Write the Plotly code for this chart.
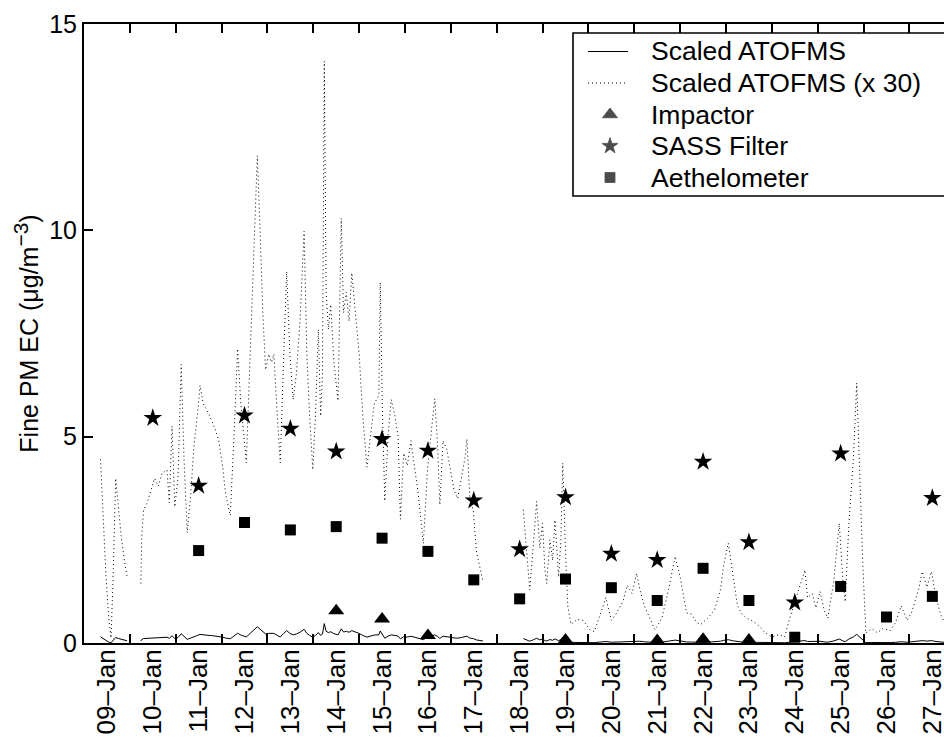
import plotly.graph_objects as go

# ---------------- data ----------------
# day-of-January positions (label positions = daily sample times)
day_labels = ["09–Jan", "10–Jan", "11–Jan", "12–Jan", "13–Jan", "14–Jan", "15–Jan",
              "16–Jan", "17–Jan", "18–Jan", "19–Jan", "20–Jan", "21–Jan", "22–Jan",
              "23–Jan", "24–Jan", "25–Jan", "26–Jan", "27–Jan"]
day_positions = [9, 10, 11, 12, 13, 14, 15, 16, 17, 18, 19, 20, 21, 22, 23, 24, 25, 26, 27]
tick_positions = [8.5, 9.5, 10.5, 11.5, 12.5, 13.5, 14.5, 15.5, 16.5, 17.5, 18.5,
                  19.5, 20.5, 21.5, 22.5, 23.5, 24.5, 25.5, 26.5, 27.5]
y_ticks = [0, 5, 10, 15]

# Scaled ATOFMS (x 30) time series (None = data gap)
atofms_time = [
    8.86, 8.92, 8.98, 9.04, 9.09, 9.14, 9.19, 9.25, 9.31, 9.38, 9.44, 9.59,
    9.74, 9.76, 9.80, 9.88, 9.96, 10.04, 10.12, 10.20, 10.31, 10.36, 10.42, 10.48,
    10.55, 10.62, 10.68, 10.75, 10.82, 10.90, 10.98, 11.03, 11.10, 11.20, 11.28, 11.36,
    11.44, 11.52, 11.59, 11.69, 11.77, 11.85, 11.92, 11.99, 12.04, 12.14, 12.21, 12.28,
    12.34, 12.40, 12.46, 12.53, 12.59, 12.64, 12.71, 12.78, 12.85, 12.92, 12.99, 13.06,
    13.13, 13.21, 13.30, 13.36, 13.42, 13.49, 13.55, 13.61, 13.66, 13.70, 13.74, 13.78,
    13.83, 13.88, 13.95, 14.04, 14.11, 14.16, 14.22, 14.28, 14.34, 14.44, 14.50, 14.58,
    14.67, 14.83, 14.93, 14.96, 15.01, 15.06, 15.13, 15.20, 15.28, 15.35, 15.40, 15.47,
    15.55, 15.63, 15.70, 15.79, 15.90, 15.99, 16.09, 16.15, 16.21, 16.26, 16.33, 16.41,
    16.49, 16.57, 16.65, 16.73, 16.81, 16.85, 16.91, 16.99, 17.06, 17.14, 17.20, 17.60,
    18.08, 18.15, 18.22, 18.30, 18.37, 18.44, 18.50, 18.55, 18.59, 18.66, 18.72, 18.77,
    18.85, 18.90, 18.94, 19.00, 19.05, 19.12, 19.25, 19.38, 19.55, 19.63, 19.72, 19.82,
    19.88, 20.00, 20.10, 20.25, 20.35, 20.45, 20.55, 20.62, 20.72, 20.95, 21.10, 21.25,
    21.39, 21.50, 21.64, 21.75, 21.85, 21.95, 22.10, 22.25, 22.38, 22.45, 22.55, 22.65,
    22.75, 22.85, 22.95, 23.05, 23.20, 23.35, 23.50, 23.65, 23.78, 23.88, 24.08, 24.22,
    24.28, 24.38, 24.46, 24.55, 24.64, 24.72, 24.85, 24.97, 25.05, 25.10, 25.18, 25.28,
    25.35, 25.42, 25.48, 25.55, 25.68, 25.80, 25.92, 26.08, 26.20, 26.32, 26.45, 26.55,
    26.70, 26.78, 26.88, 26.98, 27.08, 27.18, 27.26]
atofms_x30 = [
    4.45, 3.0, 1.6, 0.6, 0.12, 1.8, 3.99, 3.3, 2.6, 2.0, 1.6, None,
    1.44, 2.6, 3.23, 3.4, 3.7, 3.99, 3.8, 4.1, 4.2, 3.4, 5.26, 3.3,
    4.0, 6.75, 4.5, 2.67, 3.5, 4.8, 5.6, 6.24, 5.8, 5.6, 5.4, 5.18,
    4.9, 4.3, 3.6, 3.09, 5.0, 7.13, 5.8, 5.0, 4.37, 7.5, 9.5, 11.81,
    10.0, 8.0, 6.62, 7.0, 6.8, 7.0, 5.6, 4.37, 6.8, 9.0, 7.0, 5.9,
    6.5, 7.8, 9.98, 7.0, 5.5, 4.2, 5.6, 7.6, 5.5, 6.5, 14.1, 8.5,
    7.6, 8.2, 6.8, 5.87, 10.29, 8.0, 8.5, 7.8, 8.97, 7.8, 7.0, 5.5,
    4.26, 5.8, 6.0, 8.74, 5.5, 3.44, 5.0, 5.9, 5.5, 5.0, 3.0, 4.6,
    4.3, 4.9, 4.3, 3.6, 2.41, 4.2, 5.3, 5.92, 4.8, 3.35, 4.9, 4.7,
    4.2, 3.7, 3.5, 4.0, 4.5, 4.94, 3.6, 3.2, 2.2, 1.8, 1.49, None,
    3.23, 2.3, 1.29, 2.4, 3.43, 2.3, 2.9, 1.8, 1.44, 2.5, 2.0, 2.98,
    1.6, 2.5, 4.36, 2.2, 0.9, 0.45, 0.57, 0.55, 0.3, 0.28, 0.6, 0.9,
    1.1, 0.55, 0.7, 1.0, 1.4, 1.2, 1.69, 1.3, 0.9, 0.32, 0.6, 1.3,
    2.1, 1.6, 0.73, 0.7, 0.5, 0.45, 0.6, 0.8, 1.3, 1.9, 2.42, 1.6,
    0.9, 0.7, 0.6, 0.55, 0.44, 0.25, 0.15, 0.2, 0.15, 0.56, 1.29, 1.77,
    1.1, 1.2, 0.85, 1.25, 0.8, 0.6, 1.5, 2.9, 1.5, 1.0, 2.9, 4.5,
    6.3, 4.0, 2.0, 0.24, 0.35, 0.25, 0.35, 0.3, 0.5, 0.9, 0.55, 0.75,
    1.3, 1.73, 1.35, 1.73, 1.1, 0.7, 0.5]
# the solid "Scaled ATOFMS" curve is the same measurement without the x30 factor
atofms_scaled = [None if v is None else v / 30.0 for v in atofms_x30]

impactor_days = [14, 15, 16, 19, 21, 22, 23]
impactor_vals = [0.78, 0.58, 0.18, 0.07, 0.06, 0.09, 0.07]

sass_days = [10, 11, 12, 13, 14, 15, 16, 17, 18, 19, 20, 21, 22, 23, 24, 25, 27]
sass_vals = [5.45, 3.81, 5.51, 5.19, 4.64, 4.94, 4.66, 3.45, 2.27, 3.53, 2.16, 2.01,
             4.39, 2.44, 0.98, 4.59, 3.51]

aeth_days = [11, 12, 13, 14, 15, 16, 17, 18, 19, 20, 21, 22, 23, 24, 25, 26, 27]
aeth_vals = [2.24, 2.92, 2.74, 2.82, 2.54, 2.22, 1.53, 1.07, 1.55, 1.34, 1.03, 1.81,
             1.03, 0.14, 1.37, 0.63, 1.13]

legend_names = ["Scaled ATOFMS", "Scaled ATOFMS (x 30)", "Impactor", "SASS Filter", "Aethelometer"]

# ---------------- figure ----------------
FONT = "Liberation Sans, Arial, Helvetica, sans-serif"
X_RANGE = [8.5, 27.254]
W, H = 944, 741
ML, MR, MT, MB = 84, 0, 24, 98
TRI, STAR, SQ = 14, 14, 11

fig = go.Figure()
fig.add_trace(go.Scatter(x=atofms_time, y=atofms_x30, mode="lines", connectgaps=False,
                         line=dict(color="black", width=1, dash="1px,3px"), showlegend=False))
fig.add_trace(go.Scatter(x=atofms_time, y=atofms_scaled, mode="lines", connectgaps=False,
                         line=dict(color="black", width=1), showlegend=False))
fig.add_trace(go.Scatter(x=impactor_days, y=impactor_vals, mode="markers", xaxis="x2",
                         marker=dict(symbol="triangle-up", size=TRI, color="black"), showlegend=False))
fig.add_trace(go.Scatter(x=sass_days, y=sass_vals, mode="markers", xaxis="x2",
                         marker=dict(symbol="star", size=STAR, color="black"), showlegend=False))
fig.add_trace(go.Scatter(x=aeth_days, y=aeth_vals, mode="markers", xaxis="x2",
                         marker=dict(symbol="square", size=SQ, color="black"), showlegend=False))

# ---- legend (drawn manually for MATLAB-like row spacing) ----
def px2fx(px):
    return (px - ML) / (W - ML - MR)

def py2fy(py):
    return (H - MB - py) / (H - MT - MB)

rows_py = [51.5, 83.0, 114.5, 146.0, 177.5]
shapes = [dict(type="rect", xref="paper", yref="paper", x0=px2fx(573), x1=1.02,
               y0=py2fy(196), y1=py2fy(33), line=dict(color="black", width=1.6),
               fillcolor="rgba(0,0,0,0)", layer="above")]
shapes.append(dict(type="line", xref="paper", yref="paper", x0=px2fx(588), x1=px2fx(628),
                   y0=py2fy(rows_py[0]), y1=py2fy(rows_py[0]), line=dict(color="black", width=1)))
shapes.append(dict(type="line", xref="paper", yref="paper", x0=px2fx(588), x1=px2fx(628),
                   y0=py2fy(rows_py[1]), y1=py2fy(rows_py[1]),
                   line=dict(color="black", width=1, dash="1px,3px")))
annotations = []
for name, py in zip(legend_names, rows_py):
    annotations.append(dict(xref="paper", yref="paper", x=px2fx(649), y=py2fy(py),
                            xanchor="left", yanchor="middle", text=name, showarrow=False,
                            font=dict(family=FONT, size=26.5, color="black")))
fig.add_trace(go.Scatter(x=[px2fx(610)] * 3, y=[py2fy(p) for p in rows_py[2:]],
                         xaxis="x3", yaxis="y3", mode="markers", showlegend=False,
                         hoverinfo="skip",
                         marker=dict(symbol=["triangle-up", "star", "square"],
                                     size=[13, 12, 10], color="black",
                                     line=dict(color="black", width=0.8))))

axis_common = dict(showgrid=False, zeroline=False)
fig.update_layout(
    width=W, height=H,
    margin=dict(l=ML, r=MR, t=MT, b=MB, autoexpand=False),
    paper_bgcolor="white", plot_bgcolor="white",
    font=dict(family=FONT, color="black", size=25),
    showlegend=False,
    shapes=shapes, annotations=annotations,
    xaxis=dict(range=X_RANGE, tickmode="array", tickvals=tick_positions,
               showticklabels=False, ticks="inside", ticklen=9, tickwidth=1.5,
               tickcolor="black", showline=True, linecolor="black", linewidth=2,
               mirror="ticks", **axis_common),
    xaxis2=dict(range=X_RANGE, overlaying="x", anchor="y", side="bottom",
                tickmode="array", tickvals=day_positions, ticktext=day_labels,
                tickangle=-90, ticks="", showline=False, ticklabeloverflow="allow",
                tickfont=dict(family=FONT, size=26, color="black"), **axis_common),
    xaxis3=dict(range=[0, 1], overlaying="x", visible=False, **axis_common),
    yaxis=dict(range=[0, 15], tickmode="array", tickvals=y_ticks,
               ticks="inside", ticklen=9, tickwidth=1.5, tickcolor="black",
               showline=True, linecolor="black", linewidth=2, mirror=False,
               tickfont=dict(family=FONT, size=25, color="black"),
               title=dict(text="Fine PM EC (μg/m<sup><span style='font-size:21px'>−3</span></sup>)",
                          standoff=3, font=dict(family=FONT, size=25, color="black")),
               **axis_common),
    yaxis3=dict(range=[0, 1], overlaying="y", visible=False, **axis_common),
)

fig.write_html("out.html")
